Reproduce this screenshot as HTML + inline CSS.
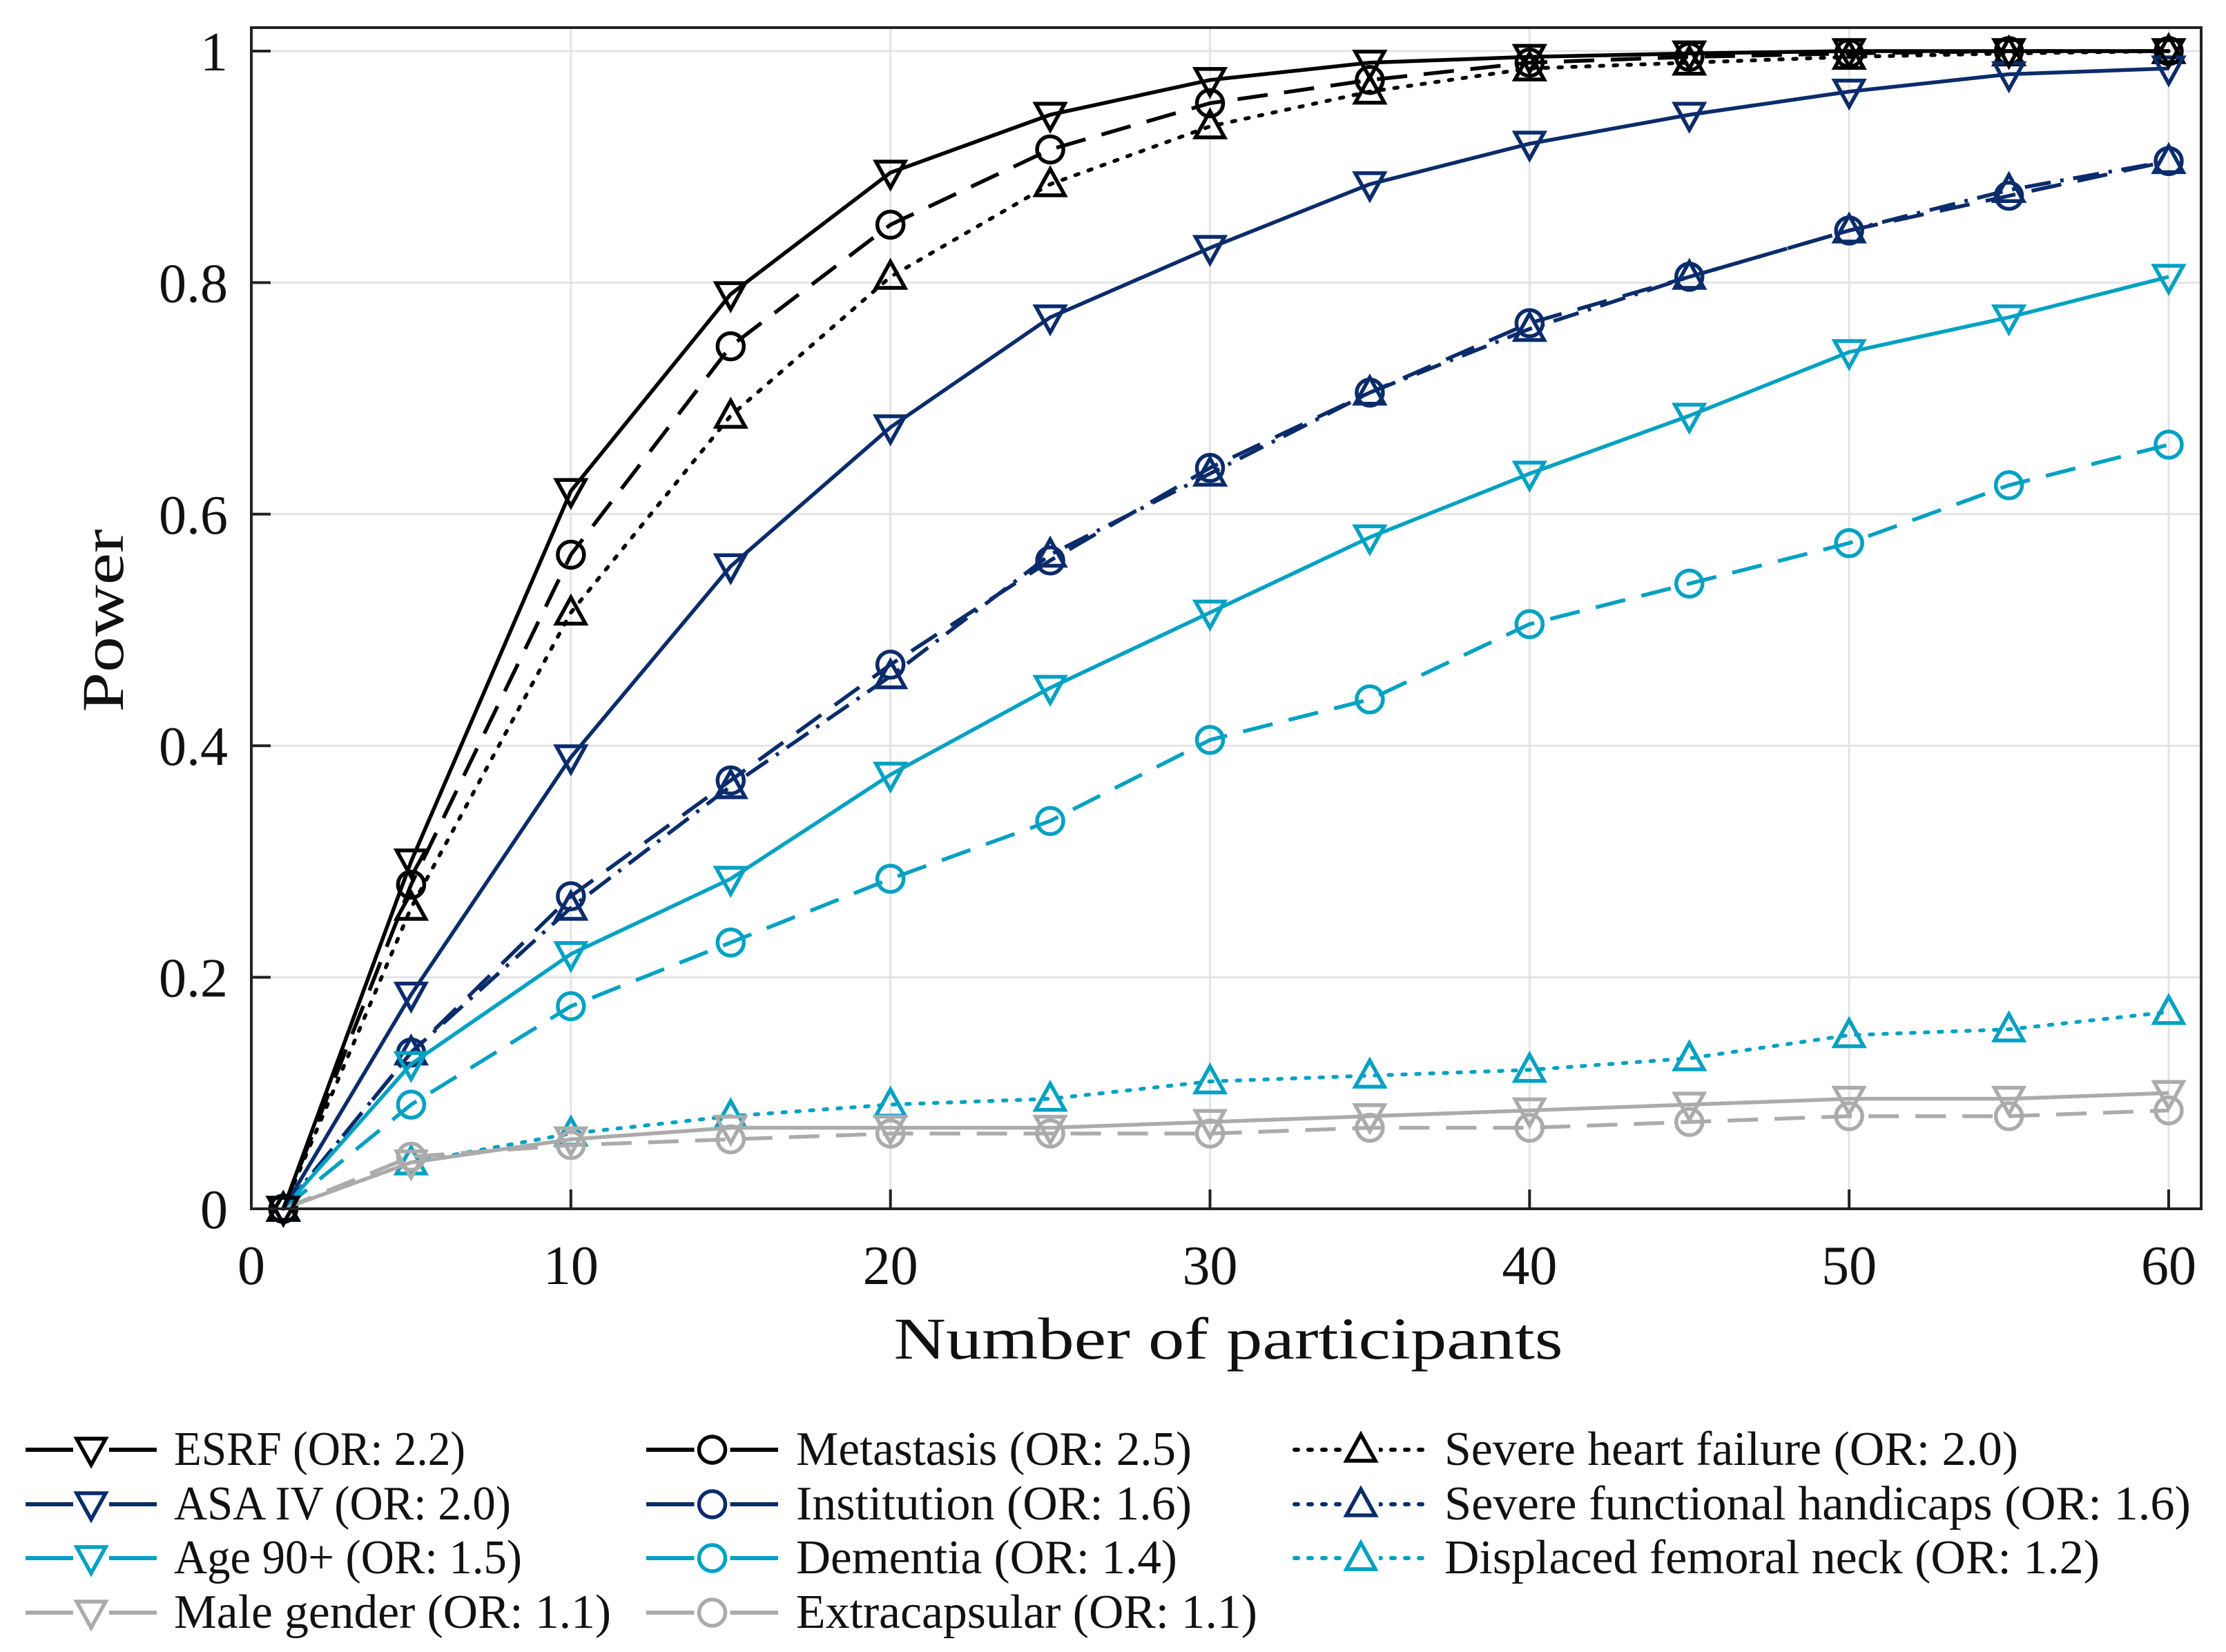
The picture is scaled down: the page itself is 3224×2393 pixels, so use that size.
<!DOCTYPE html>
<html><head><meta charset="utf-8">
<style>
html,body{margin:0;padding:0;background:#fff;}
svg{display:block;font-family:"Liberation Serif",serif;}
</style></head>
<body>
<svg id="chart" width="3224" height="2393" viewBox="0 0 3224 2393" xmlns="http://www.w3.org/2000/svg">
  <rect x="0" y="0" width="3224" height="2393" fill="#fff"/>
  <g id="grid"></g>
  <g id="series"></g>
  <rect x="364" y="40" width="2824" height="1711" fill="none" stroke="#222" stroke-width="4"/>
  <g id="axes"></g>
  <text x="1779" y="1968" font-size="86" text-anchor="middle" textLength="969" lengthAdjust="spacingAndGlyphs" fill="#111">Number of participants</text>
  <text transform="translate(178,899) rotate(-90)" font-size="86" text-anchor="middle" textLength="265" lengthAdjust="spacingAndGlyphs" fill="#111">Power</text>
  <g id="legend"></g>
</svg>
<script>
const xValues = [1,5,10,15,20,25,30,35,40,45,50,55,60];
const esrf = [0,0.30,0.62,0.79,0.895,0.945,0.975,0.99,0.995,0.998,1,1,1];
const metastasis = [0,0.28,0.565,0.745,0.85,0.915,0.955,0.975,0.99,0.995,0.998,1,1];
const heartFailure = [0,0.26,0.515,0.685,0.805,0.885,0.935,0.965,0.985,0.99,0.995,0.998,1];
const asaIV = [0,0.185,0.39,0.555,0.675,0.77,0.83,0.885,0.92,0.945,0.965,0.98,0.985];
const institution = [0,0.135,0.27,0.37,0.47,0.56,0.64,0.705,0.765,0.805,0.845,0.875,0.905];
const functionalHandicaps = [0,0.135,0.26,0.365,0.46,0.565,0.635,0.705,0.76,0.805,0.845,0.88,0.905];
const age90 = [0,0.125,0.22,0.285,0.375,0.45,0.515,0.58,0.635,0.685,0.74,0.77,0.805];
const dementia = [0,0.09,0.175,0.23,0.285,0.335,0.405,0.44,0.505,0.54,0.575,0.625,0.66];
const displacedNeck = [0,0.04,0.065,0.08,0.09,0.095,0.11,0.115,0.12,0.13,0.15,0.155,0.17];
const maleGender = [0,0.04,0.06,0.07,0.07,0.07,0.075,0.08,0.085,0.09,0.095,0.095,0.1];
const extracapsular = [0,0.045,0.055,0.06,0.065,0.065,0.065,0.07,0.07,0.075,0.08,0.08,0.085];
const xTicks = [0,10,20,30,40,50,60];
const yTicks = [0,0.2,0.4,0.6,0.8,1];
const yTickLabels = ["0","0.2","0.4","0.6","0.8","1"];
const seriesNames = ["ESRF (OR: 2.2)","ASA IV (OR: 2.0)","Age 90+ (OR: 1.5)","Male gender (OR: 1.1)","Metastasis (OR: 2.5)","Institution (OR: 1.6)","Dementia (OR: 1.4)","Extracapsular (OR: 1.1)","Severe heart failure (OR: 2.0)","Severe functional handicaps (OR: 1.6)","Displaced femoral neck (OR: 1.2)"];

const NS="http://www.w3.org/2000/svg";
const X0=364, X60=3141, Y0=1751, Y1=74;
function sx(v){return X0+(X60-X0)*v/60;}
function sy(v){return Y0-(Y0-Y1)*v;}
function mk(tag,attrs,parent){const e=document.createElementNS(NS,tag);for(const k in attrs)e.setAttribute(k,attrs[k]);parent.appendChild(e);return e;}

const BLACK="#000", NAVY="#0b2c6b", CYAN="#00a1c2", GRAY="#ababab";
const DASH={solid:"", dashed:"44 24", dotted:"5 15", dashdot:"38 14 5 14"};
const series=[
 {data:esrf,color:BLACK,style:"solid",mark:"down",name:"esrf"},
 {data:asaIV,color:NAVY,style:"solid",mark:"down",name:"asa-iv"},
 {data:age90,color:CYAN,style:"solid",mark:"down",name:"age-90"},
 {data:maleGender,color:GRAY,style:"solid",mark:"down",name:"male-gender"},
 {data:metastasis,color:BLACK,style:"dashed",mark:"circle",name:"metastasis"},
 {data:institution,color:NAVY,style:"dashed",mark:"circle",name:"institution"},
 {data:dementia,color:CYAN,style:"dashed",mark:"circle",name:"dementia"},
 {data:extracapsular,color:GRAY,style:"dashed",mark:"circle",name:"extracapsular"},
 {data:heartFailure,color:BLACK,style:"dotted",mark:"up",name:"heart-failure"},
 {data:functionalHandicaps,color:NAVY,style:"dashdot",mark:"up",name:"functional-handicaps"},
 {data:displacedNeck,color:CYAN,style:"dotted",mark:"up",name:"displaced-neck"}
];

const grid=document.getElementById('grid');
const axes=document.getElementById('axes');
yTicks.forEach((t,i)=>{
  const y=sy(t);
  const g=mk('line',{x1:364,x2:3188,y1:y,y2:y,stroke:"#e4e4e4","stroke-width":3},grid);
  
  
  const tk=mk('line',{x1:364,x2:392,y1:y,y2:y,stroke:"#222","stroke-width":4},axes);
  
  
  const lb=mk('text',{x:330,y:y+28,"font-size":80,"text-anchor":"end",fill:"#111"},axes);
  lb.textContent=yTickLabels[i];
  
  
});
xTicks.forEach(t=>{
  const x=sx(t);
  const g=mk('line',{x1:x,x2:x,y1:40,y2:1751,stroke:"#e4e4e4","stroke-width":3},grid);
  
  
  const tk=mk('line',{x1:x,x2:x,y1:1751,y2:1723,stroke:"#222","stroke-width":4},axes);
  
  
  const lb=mk('text',{x:x,y:1860,"font-size":80,"text-anchor":"middle",fill:"#111"},axes);
  lb.textContent=String(t);
  
  
});

function marker(type,x,y,color,parent){
  let e;
  if(type==="circle"){
    e=mk('circle',{cx:x,cy:y,r:19,fill:"none",stroke:color,"stroke-width":5.5},parent);
  }else if(type==="down"){
    e=mk('polygon',{points:`${x-21},${y-16} ${x+21},${y-16} ${x},${y+22}`,fill:"none",stroke:color,"stroke-width":5.5},parent);
  }else{
    e=mk('polygon',{points:`${x-21},${y+16} ${x+21},${y+16} ${x},${y-22}`,fill:"none",stroke:color,"stroke-width":5.5},parent);
  }
  return e;
}

const sl=document.getElementById('series');
series.slice().reverse().forEach(s=>{
  const g=mk('g',{},sl);
  
  
  const pts=s.data.map((v,i)=>sx(xValues[i])+","+sy(v)).join(" ");
  const attrs={points:pts,fill:"none",stroke:s.color,"stroke-width":5.5,"stroke-linejoin":"round"};
  if(DASH[s.style])attrs["stroke-dasharray"]=DASH[s.style];
  if(s.style==="dotted")attrs["stroke-linecap"]="round";
  const pl=mk('polyline',attrs,g);
  
  
  s.data.forEach((v,i)=>{
    const m=marker(s.mark,sx(xValues[i]),sy(v),s.color,g);
    
    
  });
});

const lg=document.getElementById('legend');
const colLineX=[[37,227],[936,1127],[1875,2067]];
const colText=[252,1153,2092];
const rowY=[2100,2179,2257,2336];
const textW=[422,488,504,633,573,573,552,668,831,1081,949];
const LDASH={solid:"",dashed:"",dotted:"5 15",dashdot:"5 15"};
series.forEach((s,i)=>{
  const col=Math.floor(i/4), row=i%4;
  const y=rowY[row];
  const g=mk('g',{},lg);
  
  
  const a={x1:colLineX[col][0],x2:colLineX[col][1],y1:y,y2:y,stroke:s.color,"stroke-width":6};
  if(LDASH[s.style]){a["stroke-dasharray"]=LDASH[s.style];a["stroke-linecap"]="round";}
  const ln=mk('line',a,g);
  
  
  const cx=(colLineX[col][0]+colLineX[col][1])/2;
  const mb=mk('rect',{x:cx-26,y:y-28,width:52,height:56,fill:"#fff"},g);
  
  
  const m=marker(s.mark,cx,y,s.color,g);
  
  
  const t=mk('text',{x:colText[col],y:y+22,"font-size":70,fill:"#111",textLength:textW[i],lengthAdjust:"spacingAndGlyphs"},g);
  t.textContent=seriesNames[i];
  
  
});
</script>
</body></html>
